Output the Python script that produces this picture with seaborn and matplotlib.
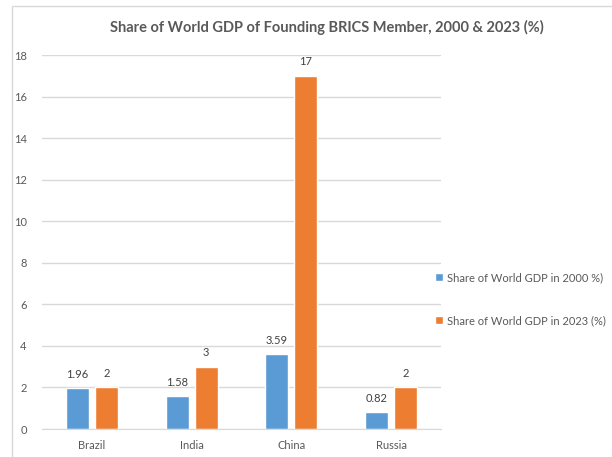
import pandas as pd
import seaborn as sns
import matplotlib.pyplot as plt
from matplotlib.patches import Rectangle

countries = ['Brazil', 'India', 'China', 'Russia']
share_2000 = [1.96, 1.58, 3.59, 0.82]
share_2023 = [2, 3, 17, 2]
series_names = ['Share of World GDP in 2000 %)', 'Share of World GDP in 2023 (%)']
y_ticks = [0, 2, 4, 6, 8, 10, 12, 14, 16, 18]

df = pd.DataFrame({
    'country': countries * 2,
    'share': share_2000 + share_2023,
    'series': [series_names[0]] * 4 + [series_names[1]] * 4,
})

sns.set_style('white')
plt.rcParams['font.family'] = ['Lato', 'DejaVu Sans']

text_gray = '#595959'
grid_gray = '#D9D9D9'

fig = plt.figure(figsize=(6.12, 4.57), dpi=100)
ax = fig.add_axes([42 / 612, 1 - 429 / 457, 399 / 612, 374 / 457])

# outer chart frame like the Excel chart area
fig.patches.append(Rectangle((12 / 612, -0.1), 1.2, 1 - 6 / 457 + 0.1, transform=fig.transFigure,
                             fill=False, edgecolor=grid_gray, linewidth=1))

sns.barplot(data=df, x='country', y='share', hue='series', order=countries,
            palette=['#5B9BD5', '#ED7D31'], saturation=1, width=0.58, gap=0.2,
            ax=ax, legend=True)

for cont in ax.containers:
    ax.bar_label(cont, fmt='%g', padding=6, fontsize=8, color='#404040')

ax.set_ylim(0, 18)
ax.set_yticks(y_ticks)
ax.yaxis.grid(True, color=grid_gray, linewidth=1)
ax.set_axisbelow(True)
for side in ['top', 'right', 'left']:
    ax.spines[side].set_visible(False)
ax.spines['bottom'].set_color(grid_gray)
ax.tick_params(axis='both', length=0, labelsize=8, labelcolor=text_gray)
ax.tick_params(axis='y', pad=11)
ax.tick_params(axis='x', pad=8)
ax.set_xlabel('')
ax.set_ylabel('')

handles, labels = ax.get_legend_handles_labels()
ax.get_legend().remove()
fig.legend(handles, labels, loc='upper left', bbox_to_anchor=(425 / 612, 1 - 262 / 457),
           frameon=False, fontsize=8, labelcolor=text_gray, handlelength=0.7,
           handleheight=0.7, handletextpad=0.4, labelspacing=2.9)

fig.text(327 / 612, 1 - 27 / 457, 'Share of World GDP of Founding BRICS Member, 2000 & 2023 (%)',
         ha='center', va='center', fontsize=10.5, fontweight='bold', color=text_gray)

fig.savefig('out.png', dpi=100, facecolor='white')
